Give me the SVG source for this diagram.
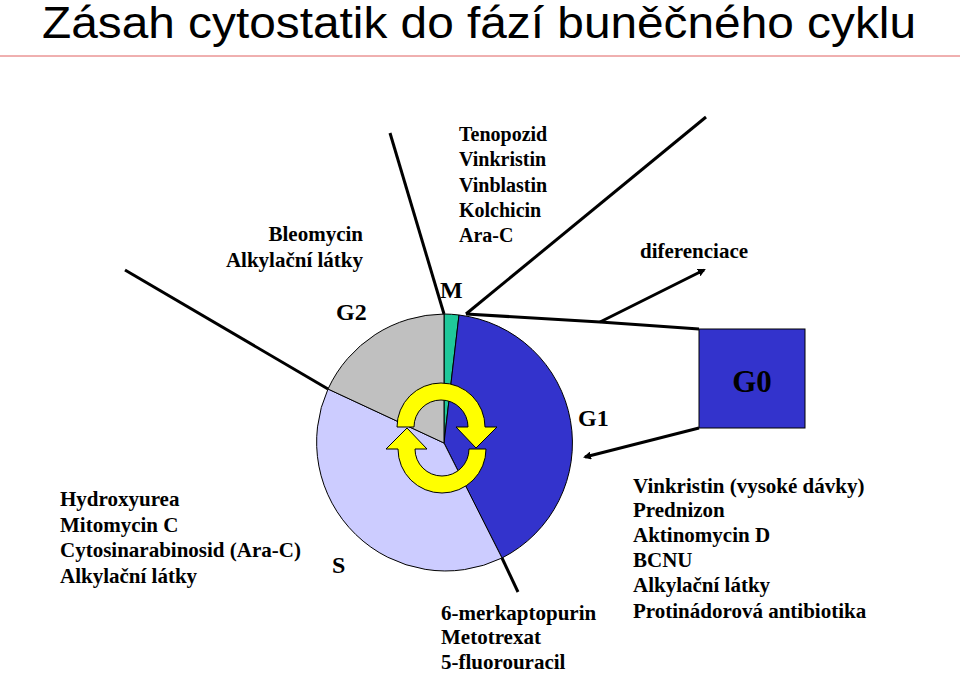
<svg xmlns="http://www.w3.org/2000/svg" width="960" height="673" viewBox="0 0 960 673">
<style>
.t{font-family:"Liberation Serif",serif;font-size:21px;font-weight:bold;fill:#000}
.b{font-family:"Liberation Serif",serif;font-weight:bold;fill:#000}
.ln{stroke:#000;stroke-width:3;fill:none}
.sl{stroke:#000;stroke-width:1}
</style>
<defs><marker id="ah" markerWidth="8" markerHeight="8" refX="6" refY="4" orient="auto" markerUnits="userSpaceOnUse"><path d="M0,0 L8,4 L0,8 Z" fill="#000"/></marker></defs>
<rect width="960" height="673" fill="#fff"/>
<text x="42" y="38" font-family="Liberation Sans,Arial,sans-serif" font-size="44" textLength="874" lengthAdjust="spacingAndGlyphs">Zásah cytostatik do fází buněčného cyklu</text>
<line x1="0" y1="56" x2="960" y2="56" stroke="#e06060" stroke-width="1"/>
<g id="pie">
<path class="sl" d="M444,443 L444,314 A129,129 0 0 1 459,315 Z" fill="#1fc89a"/>
<path class="sl" d="M444,443 L459,315 A129,129 0 0 1 502,558 Z" fill="#3333cc"/>
<path class="sl" d="M444,443 L502,558 A129,129 0 0 1 328,389 Z" fill="#ccccff"/>
<path class="sl" d="M444,443 L328,389 A129,129 0 0 1 444,314 Z" fill="#c0c0c0"/>
</g>
<g id="cycle-arrows" fill="#ffff00" stroke="#000" stroke-width="1">
<path d="M397,427 A44,44 0 0 1 485,427 L497,427 L476,448 L456,427 L468,427 A27,27 0 0 0 414,427 Z"/>
<path d="M486,449 A44,44 0 0 1 398,449 L386,449 L407,428 L427,449 L415,449 A27,27 0 0 0 469,449 Z"/>
</g>
<g id="connectors">
<line class="ln" x1="390" y1="133" x2="444" y2="314"/>
<line class="ln" x1="125" y1="270" x2="328" y2="389"/>
<line class="ln" x1="502" y1="558" x2="518" y2="592"/>
<line class="ln" x1="706" y1="117" x2="466" y2="314"/>
<polyline class="ln" points="466,314 600,322 699,329"/>
<line class="ln" x1="600" y1="322" x2="704" y2="270" marker-end="url(#ah)"/>
<line class="ln" x1="699" y1="428" x2="585" y2="457" marker-end="url(#ah)"/>
</g>
<g id="g0"><rect x="699" y="329" width="106" height="99" fill="#3333cc" stroke="#000" stroke-width="1"/>
<text class="b" x="752" y="392" font-size="31" text-anchor="middle">G0</text></g>
<text class="b" x="440" y="298" font-size="24">M</text>
<text class="b" x="336" y="320" font-size="24">G2</text>
<text class="b" x="578" y="426" font-size="24">G1</text>
<text class="b" x="332" y="573" font-size="24">S</text>
<text class="b" x="640" y="258" font-size="21">diferenciace</text>
<g class="t">
<text x="459" y="141" font-size="20">Tenopozid</text><text x="459" y="166" font-size="20">Vinkristin</text><text x="459" y="192" font-size="20">Vinblastin</text><text x="459" y="217" font-size="20">Kolchicin</text><text x="459" y="242" font-size="20">Ara-C</text>
<text x="363" y="241" text-anchor="end">Bleomycin</text><text x="363" y="267" text-anchor="end">Alkylační látky</text>
<text x="60" y="506">Hydroxyurea</text><text x="60" y="532">Mitomycin C</text><text x="60" y="557">Cytosinarabinosid (Ara-C)</text><text x="60" y="583">Alkylační látky</text>
<text x="441" y="620">6-merkaptopurin</text><text x="441" y="644">Metotrexat</text><text x="441" y="669">5-fluorouracil</text>
<text x="633" y="493">Vinkristin (vysoké dávky)</text><text x="633" y="517">Prednizon</text><text x="633" y="542">Aktinomycin D</text><text x="633" y="567">BCNU</text><text x="633" y="592">Alkylační látky</text><text x="633" y="618">Protinádorová antibiotika</text>
</g>
</svg>
